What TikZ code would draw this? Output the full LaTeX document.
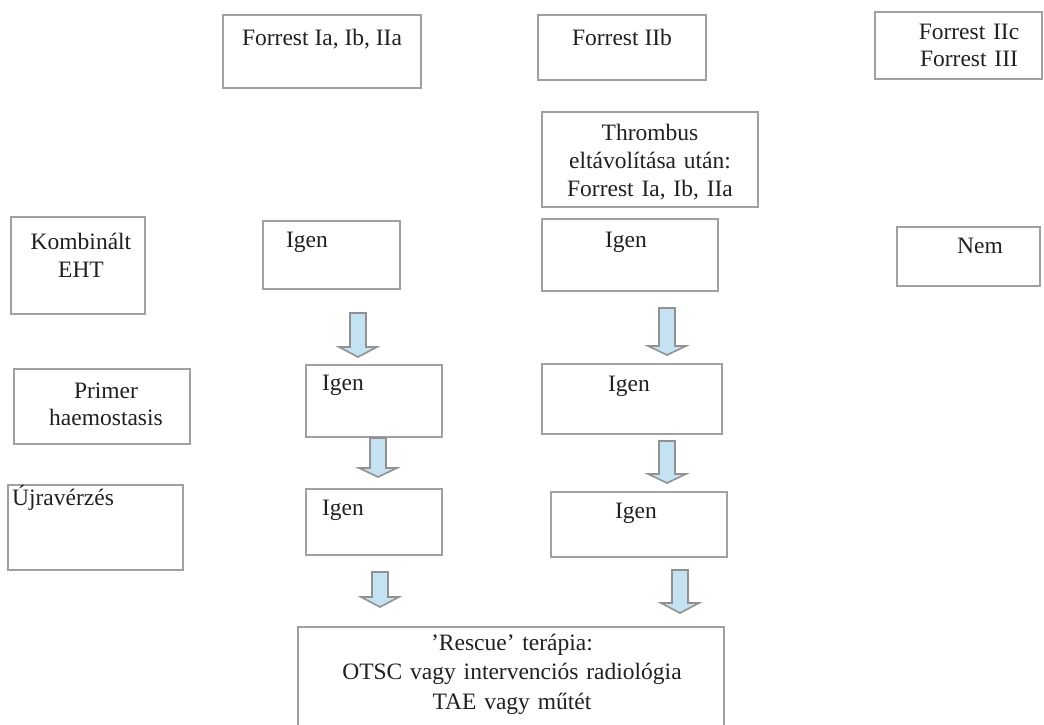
\documentclass[tikz,border=0pt]{standalone}
\usepackage{fontspec}
\setmainfont{Liberation Serif}
\usetikzlibrary{fit}
\definecolor{boxline}{RGB}{160,160,160}
\definecolor{arrfill}{RGB}{197,226,242}
\definecolor{arrline}{RGB}{145,145,145}
\definecolor{ink}{RGB}{35,31,32}
\tikzset{
  box/.style={draw=boxline, line width=1.3pt, inner sep=0pt, outer sep=0pt},
  txt/.style={text=ink, font=\fontsize{23.5}{27.5}\selectfont, inner sep=0pt, anchor=base, align=center},
  blockarrow/.style={draw=arrline, fill=arrfill, line width=1.6pt, line join=miter}
}
\newcommand{\mybox}[5]{\node[box, fit={(#2,#3) (#4,#5)}] (#1) {};}
\newcommand{\myarrow}[4]{% cx, ytop, yhead, ytip
  \draw[blockarrow] (#1-8,#2) -- (#1+8,#2) -- (#1+8,#3) -- (#1+19,#3) -- (#1,#4) -- (#1-19,#3) -- (#1-8,#3) -- cycle;}
\begin{document}
\begin{tikzpicture}[x=1pt,y=-1pt]
\useasboundingbox (0,0) rectangle (1044,724);
% top row
\mybox{f1}{223}{15}{421}{88}
\node[txt] (f1t) at (322,45) {Forrest Ia, Ib, IIa};
\mybox{f2}{538}{15}{706}{80}
\node[txt] (f2t) at (622,45) {Forrest IIb};
\mybox{f3}{875}{12}{1042}{79}
\node[txt, text width=150pt] (f3t) at (969,39) {Forrest IIc\\Forrest III};
% thrombus
\mybox{th}{542}{112}{758}{207}
\node[txt, text width=210pt, font=\fontsize{23.5}{28}\selectfont] (tht) at (650,140) {Thrombus\\eltávolítása után:\\Forrest Ia, Ib, IIa};
% row labels
\mybox{ke}{11}{217}{145}{314}
\node[txt, text width=130pt, font=\fontsize{23.5}{28}\selectfont] (ket) at (81,249) {Kombinált\\EHT};
\mybox{ph}{14}{369}{190}{444}
\node[txt, text width=170pt] (pht) at (106,398) {Primer\\haemostasis};
\mybox{uj}{8}{485}{183}{570}
\node[txt] (ujt) at (63,505) {Újravérzés};
% column 1
\mybox{c1a}{263}{221}{400}{289}
\node[txt] (c1at) at (307,247) {Igen};
\mybox{c1b}{306}{365}{442}{437}
\node[txt] (c1bt) at (343,390) {Igen};
\mybox{c1c}{306}{489}{442}{555}
\node[txt] (c1ct) at (343,515) {Igen};
% column 2
\mybox{c2a}{542}{219}{718}{291}
\node[txt] (c2at) at (626,247) {Igen};
\mybox{c2b}{542}{364}{722}{434}
\node[txt] (c2bt) at (629,391) {Igen};
\mybox{c2c}{551}{492}{727}{557}
\node[txt] (c2ct) at (636,518) {Igen};
% column 3
\mybox{nem}{897}{227}{1040}{286}
\node[txt] (nemt) at (980,253) {Nem};
% rescue
\mybox{rs}{298}{627}{724}{740}
\node[txt, text width=420pt, font=\fontsize{23.5}{29.5}\selectfont] (rst) at (512,650) {’Rescue’ terápia:\\OTSC vagy intervenciós radiológia\\TAE vagy műtét};
% block arrows
\myarrow{358}{313}{347}{357}
\myarrow{667}{308}{346}{355}
\myarrow{378}{438}{468}{477}
\myarrow{667}{441}{474}{483}
\myarrow{380}{572}{597}{607}
\myarrow{680}{570}{603}{613}
\end{tikzpicture}
\end{document}
